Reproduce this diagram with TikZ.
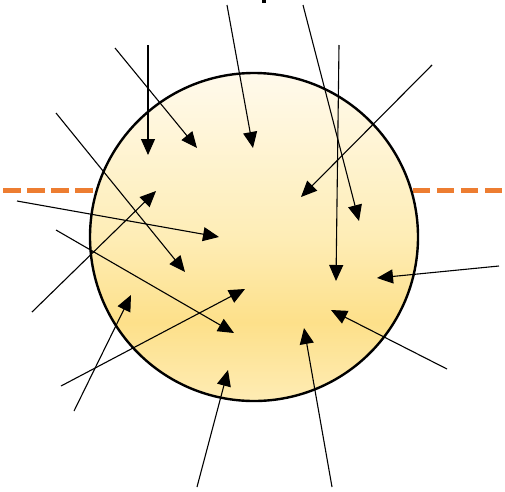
\documentclass[tikz,border=0pt]{standalone}
\usepackage{tikz}
\usetikzlibrary{arrows.meta}
\definecolor{celltop}{RGB}{255,250,236}
\definecolor{cellmid}{RGB}{254,237,182}
\definecolor{cellgold}{RGB}{253,224,138}
\definecolor{cellbottom}{RGB}{254,236,180}
\definecolor{dashorange}{RGB}{237,125,49}
\pgfdeclareverticalshading{cellshade}{100bp}{color(0bp)=(cellbottom); color(25bp)=(cellbottom);
  color(37bp)=(cellgold); color(50bp)=(cellmid); color(75bp)=(celltop); color(100bp)=(celltop)}

\begin{document}
\begin{tikzpicture}[x=1pt,y=-1pt,
    flux/.style={-{Triangle[length=16pt,width=14pt]}, line width=1.1pt},
    boundary/.style={dashorange, line width=5pt, dash pattern=on 17.5pt off 6.6pt}]
  \useasboundingbox (0,0) rectangle (505,491);
  % Boundary line behind the cell
  \draw[boundary] (3,190) -- (502,190);
  % Cell
  \node[circle, draw, line width=2.4pt, minimum size=328pt, inner sep=0pt,
        shading=cellshade] (cell) at (254,237) {};
  % Mark at the top edge
  \fill (262,0) rectangle (266,3);
  % Incoming arrows
  \foreach \n/\sx/\sy/\ex/\ey in {1/148/45/148/155, 2/115/48/197/148, 3/227/5/253/148,
      4/303/5/359/221, 5/339/45/336/281, 6/432/65/301/197, 7/56/113/185/272,
      8/17/201/219/237, 9/56/230/234/333, 10/32/312/156/191, 11/61/386/245/289,
      12/74/411/131/295, 13/197/487/228/370, 14/332/487/304/328, 15/447/369/331/310,
      16/499/266/377/278}{
    \coordinate (s\n) at (\sx,\sy);
    \coordinate (e\n) at (\ex,\ey);
    \draw[flux] (s\n) -- (e\n);
  }
\end{tikzpicture}
\end{document}
